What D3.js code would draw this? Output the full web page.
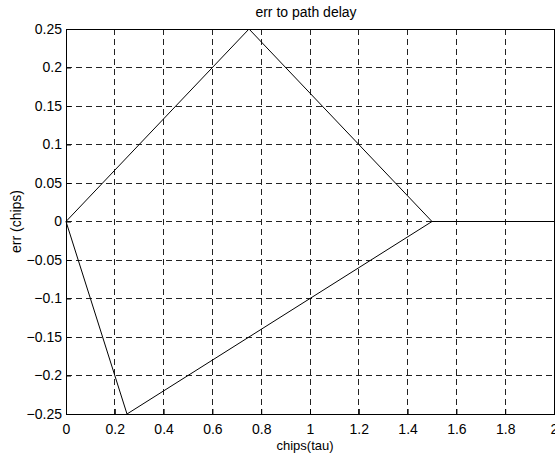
<!DOCTYPE html>
<html>
<head>
<meta charset="utf-8">
<script src="https://cdn.jsdelivr.net/npm/d3@7"></script>
<style>
  body { margin: 0; background: #fff; }
  text { font-family: "Liberation Sans", Arial, sans-serif; fill: #000; }
</style>
</head>
<body>
<div id="chart"></div>
<script>
// data
const upperTau = [0, 0.75, 1.5, 2]
const upperErr = [0, 0.25, 0, 0]
const lowerTau = [0, 0.25, 1.5]
const lowerErr = [0, -0.25, 0]
const xTicks = [0, 0.2, 0.4, 0.6, 0.8, 1, 1.2, 1.4, 1.6, 1.8, 2]
const yTicks = [-0.25, -0.2, -0.15, -0.1, -0.05, 0, 0.05, 0.1, 0.15, 0.2, 0.25]

const width = 555
const height = 458
const m = {left: 66, right: 1, top: 29, bottom: 44}

const x = d3.scaleLinear().domain([0, 2]).range([m.left, width - m.right])
const y = d3.scaleLinear().domain([-0.25, 0.25]).range([height - m.bottom, m.top])

const svg = d3.select('#chart')
    .append('svg')
    .attr('width', width)
    .attr('height', height)

// grid
svg.append('g')
    .selectAll('line')
    .data(xTicks.slice(1, -1))
    .join('line')
    .attr('x1', d => x(d)).attr('x2', d => x(d))
    .attr('y1', m.top).attr('y2', height - m.bottom)
    .attr('stroke', '#222')
    .attr('stroke-width', 1)
    .attr('stroke-dasharray', '6,4')
    .attr('shape-rendering', 'crispEdges')

svg.append('g')
    .selectAll('line')
    .data(yTicks.slice(1, -1))
    .join('line')
    .attr('y1', d => y(d)).attr('y2', d => y(d))
    .attr('x1', m.left).attr('x2', width - m.right)
    .attr('stroke', '#222')
    .attr('stroke-width', 1)
    .attr('stroke-dasharray', '6,4')
    .attr('shape-rendering', 'crispEdges')

// axes (ticks pointing inward like matlab)
const fmt = d => d3.format('')(+d.toFixed(2))
svg.append('g')
    .attr('transform', `translate(0,${height - m.bottom})`)
    .call(d3.axisBottom(x).tickValues(xTicks).tickFormat(fmt).tickSizeInner(-5).tickSizeOuter(0).tickPadding(10))
    .call(g => g.select('.domain').remove())
    .selectAll('text').attr('font-size', 14)

svg.append('g')
    .attr('transform', `translate(${m.left},0)`)
    .call(d3.axisLeft(y).tickValues(yTicks).tickFormat(fmt).tickSizeInner(-5).tickSizeOuter(0).tickPadding(4))
    .call(g => g.select('.domain').remove())
    .selectAll('text').attr('font-size', 14)

svg.selectAll('.tick line').attr('stroke', '#000')

// box
svg.append('rect')
    .attr('x', m.left).attr('y', m.top)
    .attr('width', width - m.right - m.left)
    .attr('height', height - m.bottom - m.top)
    .attr('fill', 'none')
    .attr('stroke', '#000')
    .attr('shape-rendering', 'crispEdges')

// curves
const line = d3.line().x(d => x(d[0])).y(d => y(d[1]))
svg.append('path')
    .attr('d', line(d3.zip(upperTau, upperErr)))
    .attr('fill', 'none').attr('stroke', '#000').attr('stroke-width', 1)
svg.append('path')
    .attr('d', line(d3.zip(lowerTau, lowerErr)))
    .attr('fill', 'none').attr('stroke', '#000').attr('stroke-width', 1)

// labels
svg.append('text')
    .attr('x', 306).attr('y', 17)
    .attr('text-anchor', 'middle').attr('font-size', 14)
    .text('err to path delay')

svg.append('text')
    .attr('x', 305).attr('y', 450)
    .attr('text-anchor', 'middle').attr('font-size', 13)
    .text('chips(tau)')

svg.append('text')
    .attr('transform', `translate(21,${(m.top + height - m.bottom) / 2}) rotate(-90)`)
    .attr('text-anchor', 'middle').attr('font-size', 14)
    .text('err (chips)')
</script>
</body>
</html>
